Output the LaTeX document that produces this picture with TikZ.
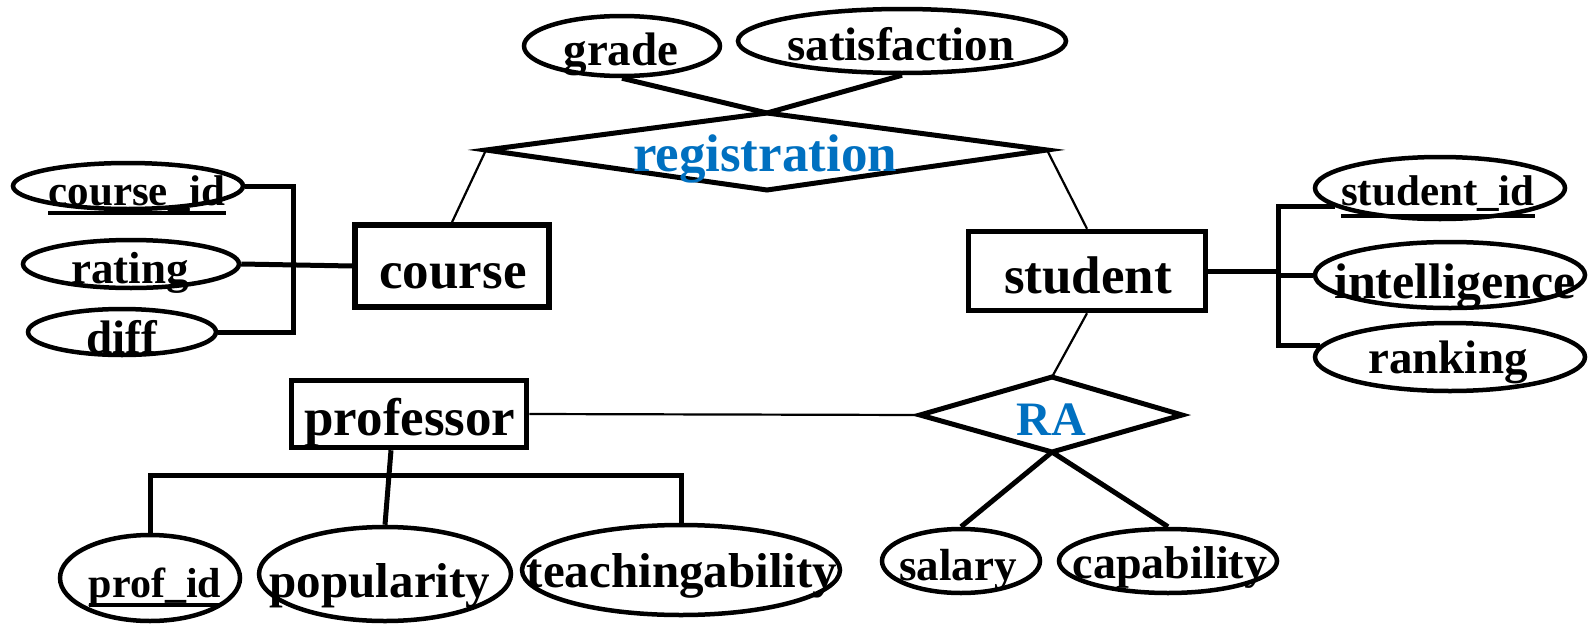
\documentclass[tikz,border=0pt]{standalone}
\usepackage{fontspec}
\setmainfont{Liberation Serif}
\usetikzlibrary{calc,shapes.geometric}
\definecolor{relblue}{HTML}{0070C0}
\newcommand{\fsz}[1]{\fontsize{#1}{#1}\selectfont\bfseries}

\begin{document}
\begin{tikzpicture}[x=1pt,y=-1pt,
  attr/.style={draw, ellipse, line width=4.5pt, inner sep=0pt},
  entity/.style={draw, rectangle, line width=5.5pt, inner sep=0pt},
  lbl/.style={anchor=base, inner sep=0pt, font=\fsz{47}},
  elbl/.style={lbl, font=\fsz{53}},
  rlbl/.style={elbl, text=relblue},
  thinlink/.style={line width=2.2pt},
  thicklink/.style={line width=5pt},
  relshape/.style={line width=5pt, line join=miter},
  uline/.style={line width=4.5pt},
]
\useasboundingbox (0,0) rectangle (1591,624);

% ---------- entities ----------
\node[entity, minimum width=194pt, minimum height=82pt] (course) at (452,266) {};
\node[entity, minimum width=237pt, minimum height=79pt] (student) at (1087,271) {};
\node[entity, minimum width=235pt, minimum height=67pt] (professor) at (409,414) {};
\node[elbl] (t-course) at (453,288) {course};
\node[elbl] (t-student) at (1088,293) {student};
\node[elbl] (t-prof) at (410,435) {professor};

% ---------- relationships ----------
\coordinate (regL) at (486,150);
\coordinate (regT) at (767,113);
\coordinate (regR) at (1047,150);
\coordinate (regB) at (767,190);
\draw[relshape] (regL) -- (regT) -- (regR) -- (regB) -- cycle;
\node[rlbl] (t-reg) at (765,171) {registration};

\coordinate (raL) at (920,415);
\coordinate (raT) at (1052,377);
\coordinate (raR) at (1182,415);
\coordinate (raB) at (1052,452);
\draw[relshape] (raL) -- (raT) -- (raR) -- (raB) -- cycle;
\node[rlbl, font=\fsz{48}] (t-ra) at (1051,435) {RA};

% ---------- attributes ----------
\node[attr, minimum width=196pt, minimum height=60pt] (grade) at (622,46) {};
\node[attr, minimum width=328pt, minimum height=64pt] (satisf) at (902,41) {};
\node[attr, minimum width=230pt, minimum height=46pt] (courseid) at (128,186) {};
\node[attr, minimum width=216pt, minimum height=48pt] (rating) at (131,264) {};
\node[attr, minimum width=188pt, minimum height=46pt] (diff) at (122,332) {};
\node[attr, minimum width=250pt, minimum height=62pt] (studentid) at (1440,188) {};
\node[attr, minimum width=270pt, minimum height=66pt] (intel) at (1450,275) {};
\node[attr, minimum width=270pt, minimum height=68pt] (ranking) at (1450,357) {};
\node[attr, minimum width=158pt, minimum height=64pt] (salary) at (961,561) {};
\node[attr, minimum width=218pt, minimum height=64pt] (capab) at (1168,561) {};
\node[attr, minimum width=180pt, minimum height=86pt] (profid) at (150,578) {};
\node[attr, minimum width=252pt, minimum height=94pt] (popul) at (385,574) {};
\node[attr, minimum width=318pt, minimum height=90pt] (teach) at (681,570) {};

\node[lbl] (t-grade) at (621,65) {grade};
\node[lbl] (t-satisf) at (901,60) {satisfaction};
\node[lbl, font=\fsz{43}] (t-courseid) at (137,205) {course\_id};
\node[lbl, font=\fsz{45}] (t-rating) at (130,283) {rating};
\node[lbl] (t-diff) at (122,353) {diff};
\node[lbl, font=\fsz{43}] (t-studentid) at (1438,205) {student\_id};
\node[lbl, font=\fsz{50}] (t-intel) at (1455,298) {intelligence};
\node[lbl] (t-ranking) at (1448,373) {ranking};
\node[lbl, font=\fsz{45}] (t-salary) at (958,580) {salary};
\node[lbl, font=\fsz{46}] (t-capab) at (1170,578) {capability};
\node[lbl, font=\fsz{42}] (t-profid) at (155,597) {prof\_id};
\node[lbl, font=\fsz{49}] (t-popul) at (380,597) {popularity};
\node[lbl, font=\fsz{49}] (t-teach) at (682,587) {teachingability};

% key underlines
\draw[uline] ([yshift=-8pt]t-courseid.base west) -- ([yshift=-8pt]t-courseid.base east);
\draw[uline] ([yshift=-11pt]t-studentid.base west) -- ([yshift=-11pt]t-studentid.base east);
\draw[uline] ([yshift=-8pt]t-profid.base west) -- ([yshift=-8pt]t-profid.base east);

% ---------- connectors ----------
% registration
\draw[thicklink] (grade.south) -- (regT);
\draw[thicklink] (satisf.south) -- (regT);
\draw[thinlink] (regL) -- (course.north);
\draw[thinlink] (regR) -- (student.north);

% RA
\draw[thinlink] (student.south) -- (raT);
\draw[thinlink] (professor.east) -- (raL);
\draw[thicklink] (raB) -- (salary.north);
\draw[thicklink] (raB) -- (capab.north);

% course attributes
\coordinate (cbus) at (293,0);
\draw[thicklink] (courseid.east) -- (courseid.east -| cbus) -- (diff.east -| cbus) -- (diff.east);
\draw[thicklink] (rating.east) -- (course.west);

% student attributes
\coordinate (sbus) at (1278,0);
\draw[thicklink] (studentid.190) -- (studentid.190 -| sbus) -- (ranking.175 -| sbus) -- (ranking.175);
\draw[thicklink] (student.east) -- (student.east -| sbus);
\draw[thicklink] (intel.west -| sbus) -- (intel.west);

% professor attributes
\coordinate (pdrop) at ($(professor.south)+(-18,0)$);
\coordinate (pbar) at (0,475);
\draw[thicklink] (pdrop) -- (popul.north);
\draw[thicklink] (profid.north) -- (profid.north |- pbar) -- (teach.north |- pbar) -- (teach.north);
\end{tikzpicture}
\end{document}
